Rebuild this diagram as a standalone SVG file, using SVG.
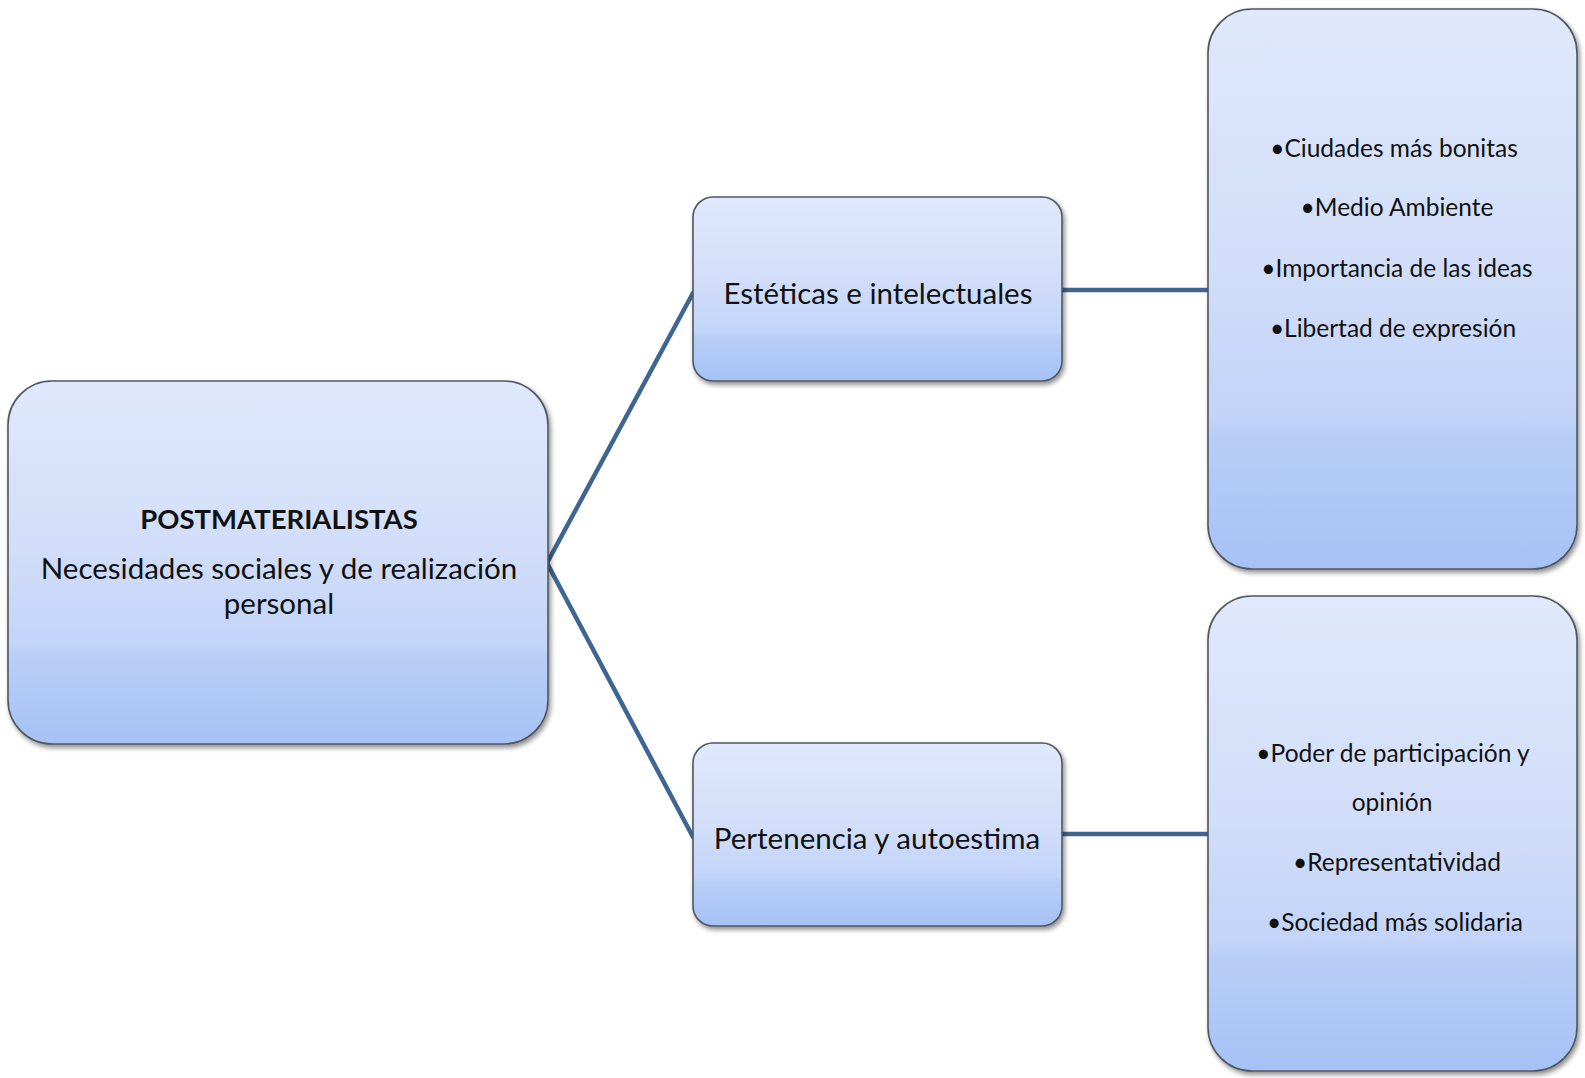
<svg xmlns="http://www.w3.org/2000/svg" width="1585" height="1078" viewBox="0 0 1585 1078">
  <defs>
    <linearGradient id="boxFill" x1="0" y1="0" x2="0" y2="1">
      <stop offset="0" stop-color="#dfe8fc"/>
      <stop offset="0.45" stop-color="#d2def9"/>
      <stop offset="0.73" stop-color="#c2d4f8"/>
      <stop offset="0.76" stop-color="#b8cef7"/>
      <stop offset="1" stop-color="#a6c1f5"/>
    </linearGradient>
    <filter id="shadow" x="-5%" y="-5%" width="112%" height="112%">
      <feGaussianBlur in="SourceAlpha" stdDeviation="2.5"/>
      <feOffset dx="2" dy="3" result="off"/>
      <feComponentTransfer><feFuncA type="linear" slope="0.45"/></feComponentTransfer>
      <feMerge><feMergeNode/><feMergeNode in="SourceGraphic"/></feMerge>
    </filter>
  </defs>
  <style>
    .box { fill: url(#boxFill); stroke: #50575f; stroke-width: 1.6; filter: url(#shadow); }
    .link { stroke: #3f6591; stroke-width: 4.5; fill: none; stroke-linecap: round; }
    text { font-family: Lato, "Open Sans", "DejaVu Sans", sans-serif; fill: #111; text-anchor: middle; }
    .main { font-size: 29.5px; }
    .title { font-size: 27.5px; font-weight: bold; }
    .item { font-size: 24.5px; }
  </style>
  <rect width="1585" height="1078" fill="#ffffff"/>

  <!-- connectors -->
  <g id="connectors">
    <polyline class="link" points="693,293 547,563 693,837"/>
    <line class="link" x1="1062" y1="290" x2="1208" y2="290"/>
    <line class="link" x1="1062" y1="834" x2="1208" y2="834"/>
  </g>

  <!-- root node -->
  <g id="node-postmaterialistas">
    <rect class="box" x="8" y="381" width="540" height="363" rx="44"/>
    <text class="title" x="279" y="529">POSTMATERIALISTAS</text>
    <text class="main" x="279" y="579">Necesidades sociales y de realización</text>
    <text class="main" x="279" y="614">personal</text>
  </g>

  <!-- second level -->
  <g id="node-esteticas">
    <rect class="box" x="693" y="197" width="369" height="184" rx="20"/>
    <text class="main" x="878" y="304">Estéticas e intelectuales</text>
  </g>
  <g id="node-pertenencia">
    <rect class="box" x="693" y="743" width="369" height="183" rx="20"/>
    <text class="main" x="877" y="849">Pertenencia y autoestima</text>
  </g>

  <!-- detail lists -->
  <g id="node-lista-esteticas">
    <rect class="box" x="1208" y="9" width="369" height="560" rx="44"/>
    <text class="item" x="1394" y="157">•Ciudades más bonitas</text>
    <text class="item" x="1397" y="216">•Medio Ambiente</text>
    <text class="item" x="1397" y="277">•Importancia de las ideas</text>
    <text class="item" x="1393" y="337">•Libertad de expresión</text>
  </g>
  <g id="node-lista-pertenencia">
    <rect class="box" x="1208" y="596" width="369" height="475" rx="44"/>
    <text class="item" x="1393" y="762">•Poder de participación y</text>
    <text class="item" x="1392" y="811">opinión</text>
    <text class="item" x="1397" y="871">•Representatividad</text>
    <text class="item" x="1395" y="931">•Sociedad más solidaria</text>
  </g>
</svg>
